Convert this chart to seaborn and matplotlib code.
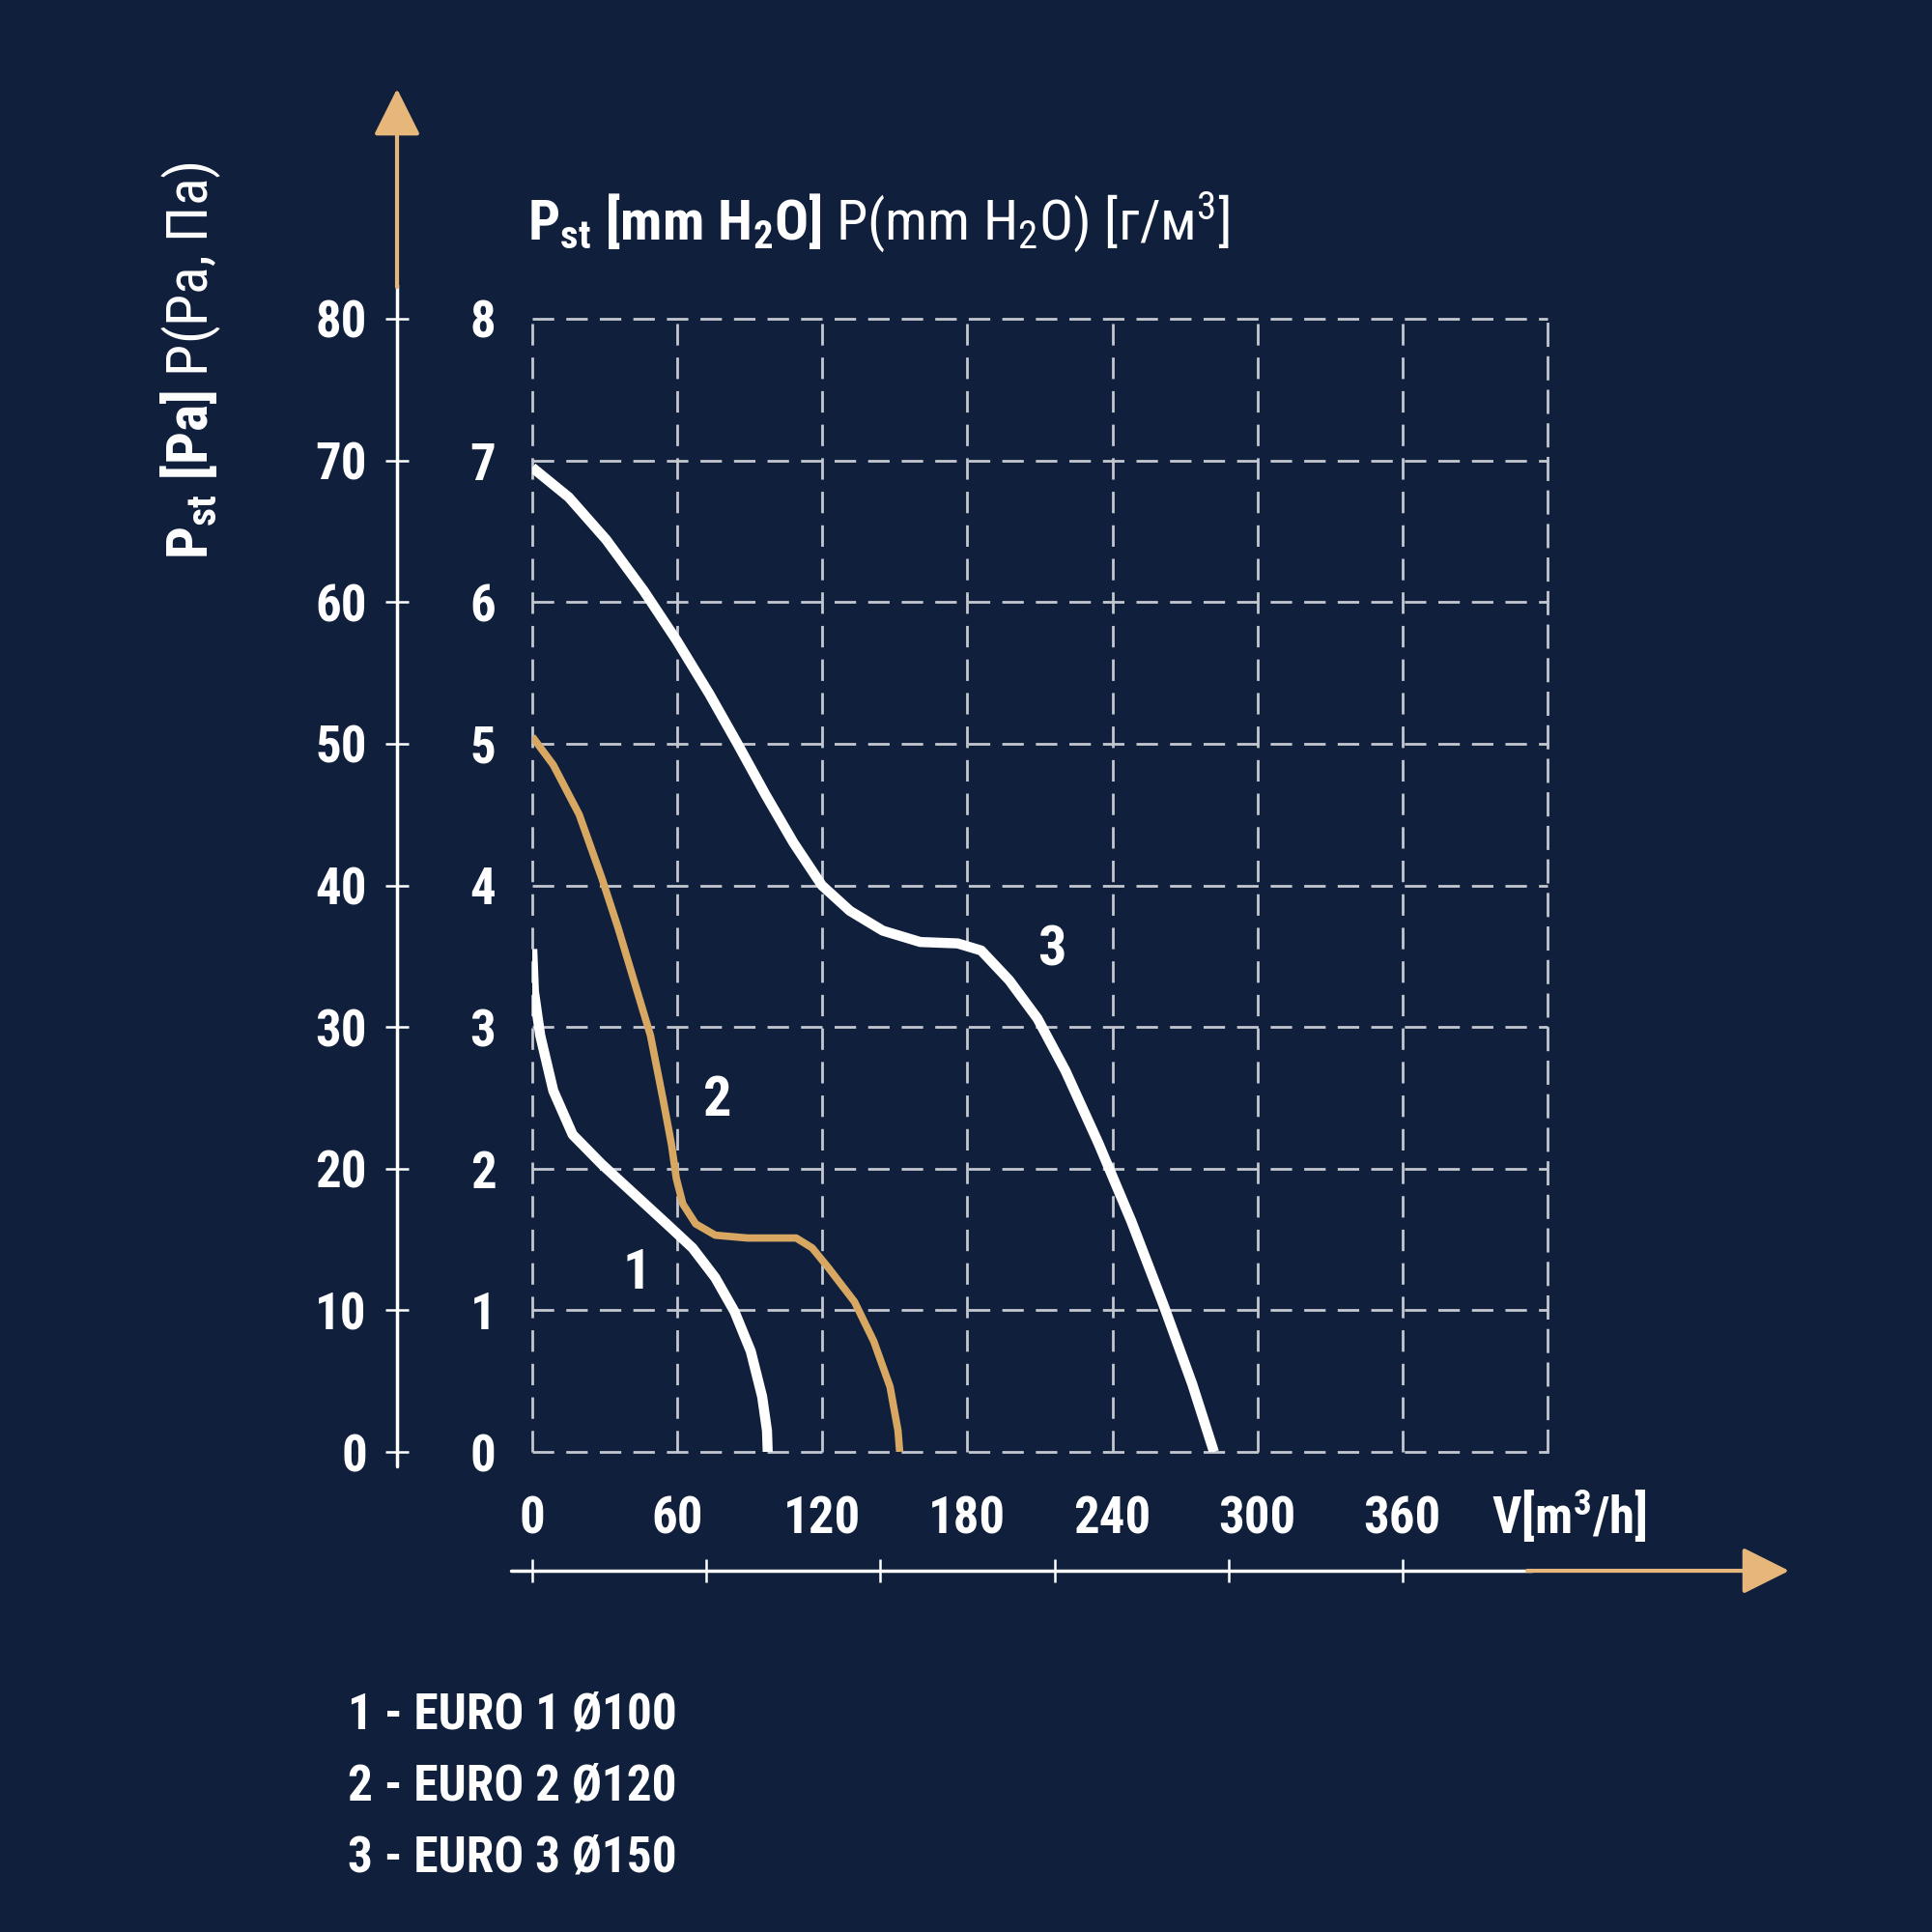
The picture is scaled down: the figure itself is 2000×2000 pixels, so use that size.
import matplotlib
matplotlib.use("Agg")
import matplotlib.pyplot as plt
import seaborn as sns
import pandas as pd
from matplotlib import font_manager

# airflow V [m3/h] vs static pressure P [mm H2O]
euro1_v = [0, 0.7, 3.3, 8.7, 16.7, 28.8, 42.2, 55.6, 66.3, 75.7, 83.7, 90.4, 95.1, 97.1, 97.4]
euro1_p = [3.55, 3.25, 2.94, 2.55, 2.24, 2.03, 1.82, 1.61, 1.44, 1.23, 0.99, 0.71, 0.39, 0.15, 0]

euro2_v = [0, 8.7, 19.4, 28.8, 35.5, 42.2, 48.9, 54.2, 57.6, 59.6, 62.3, 67.6, 75.7, 89.1,
           109.2, 115.8, 122.5, 133.3, 141.3, 148, 151.3, 152]
euro2_p = [5.05, 4.85, 4.5, 4.05, 3.7, 3.32, 2.94, 2.48, 2.17, 1.93, 1.75, 1.61, 1.53, 1.51,
           1.51, 1.44, 1.3, 1.06, 0.78, 0.46, 0.15, 0]

euro3_v = [0, 15.1, 30.6, 46.1, 59.7, 73.3, 84.9, 96.5, 108.1, 119.8, 131.4, 145, 160.5, 176,
           185.7, 197.3, 209, 220.6, 234.2, 247.8, 261.3, 273, 282]
euro3_p = [6.95, 6.74, 6.44, 6.08, 5.73, 5.35, 5.0, 4.64, 4.3, 4.0, 3.82, 3.68, 3.6, 3.59,
           3.54, 3.33, 3.06, 2.69, 2.18, 1.63, 1.03, 0.48, 0]

curve_names = ["1", "2", "3"]
curve_label_v = [43.2, 76.8, 214.8]
curve_label_p = [1.26, 2.48, 3.54]

x_ticks = [0, 60, 120, 180, 240, 300, 360]
x_tick_labels = ["0", "60", "120", "180", "240", "300", "360"]
y_ticks = [0, 1, 2, 3, 4, 5, 6, 7, 8]
y_tick_labels = ["0", "1", "2", "3", "4", "5", "6", "7", "8"]
pa_ticks = [0, 10, 20, 30, 40, 50, 60, 70, 80]
pa_tick_labels = ["0", "10", "20", "30", "40", "50", "60", "70", "80"]
outer_v_ticks = [0, 72, 144, 216, 288, 360]

legend_lines = ["1 - EURO 1 Ø100", "2 - EURO 2 Ø120", "3 - EURO 3 Ø150"]

BG = "#10203c"
GRID = "#c3c7cf"
GOLD = "#d8a862"
ARROW_GOLD = "#e6b67a"

# look for a narrow / condensed bold face, the original uses one
FONT, STRETCH = "Roboto", "normal"
wanted = ["Liberation Sans Narrow", "Roboto Condensed", "Open Sans Condensed",
          "Noto Sans Condensed", "DejaVu Sans Condensed"]
entries = font_manager.fontManager.ttflist
found = False
for w in wanted:
    for f in entries:
        if f.name == w:
            FONT, STRETCH, found = w, f.stretch, True
            break
    if found:
        break
if not found:
    for fam in ["Noto Sans", "Open Sans", "DejaVu Sans", "Roboto"]:
        hits = [f for f in entries if f.name == fam and "condensed" in str(f.stretch)
                and str(f.weight) in ("700", "bold")]
        if hits:
            FONT, STRETCH = fam, hits[0].stretch
            break

sns.set_style("white", rc={"axes.facecolor": BG, "figure.facecolor": BG})
plt.rcParams["font.family"] = [FONT, "DejaVu Sans"]
plt.rcParams["font.stretch"] = STRETCH
plt.rcParams["mathtext.fontset"] = "custom"
plt.rcParams["mathtext.rm"] = f"{FONT}:stretch={STRETCH}"
plt.rcParams["mathtext.bf"] = f"{FONT}:bold:stretch={STRETCH}"
plt.rcParams["mathtext.it"] = f"{FONT}:italic:stretch={STRETCH}"

fig = plt.figure(figsize=(20, 20), dpi=100)
fig.patch.set_facecolor(BG)
ax = fig.add_axes([0.2755, 0.2485, 0.5255, 0.5865])
ax.set_facecolor(BG)

curves = pd.concat([
    pd.DataFrame({"V": euro1_v, "P": euro1_p, "fan": "1"}),
    pd.DataFrame({"V": euro2_v, "P": euro2_p, "fan": "2"}),
    pd.DataFrame({"V": euro3_v, "P": euro3_p, "fan": "3"}),
])
palette = {"1": "white", "2": GOLD, "3": "white"}
for fan, lw in zip(curve_names, [7.5, 5.5, 7.5]):
    sns.lineplot(data=curves[curves["fan"] == fan], x="V", y="P", color=palette[fan],
                 sort=False, estimator=None, lw=lw, ax=ax, legend=False,
                 solid_capstyle="butt", solid_joinstyle="round", zorder=3)

for name, v, p in zip(curve_names, curve_label_v, curve_label_p):
    ax.text(v, p, name, ha="center", va="center", color="white",
            fontsize=42, fontweight="bold", zorder=4)

ax.set_xlabel("")
ax.set_ylabel("")

ax.set_xticks(x_ticks, labels=x_tick_labels, fontsize=38, fontweight="bold", color="white")
ax.set_yticks(y_ticks, labels=y_tick_labels, fontsize=38, fontweight="bold", color="white")
ax.set_xlim(0, 420)
ax.set_ylim(0, 8)
ax.tick_params(axis="both", which="major", direction="inout", length=22, width=1.8, color=GRID)
ax.tick_params(axis="x", which="major", pad=21)
ax.tick_params(axis="y", which="major", pad=16)

# flow unit sits in the tick label row, just past the last column
ax.text(429, -0.0563, r"V[m$^{\mathregular{3}}$/h]", transform=ax.get_xaxis_transform(),
        ha="center", va="center", fontsize=38, fontweight="bold", color="white")

ax.grid(True, which="major", color=GRID, linestyle=(0, (8, 4.5)), linewidth=2.0)
ax.set_axisbelow(True)
for gl in ax.get_xgridlines() + ax.get_ygridlines():
    gl.set_clip_on(False)
for side in ["left", "bottom", "top"]:
    ax.spines[side].set_visible(False)
ax.spines["right"].set_color(GRID)
ax.spines["right"].set_linestyle((0, (8, 4.5)))
ax.spines["right"].set_linewidth(2.0)

# outer Pa axis on the left
sec_y = ax.secondary_yaxis(-0.1332, functions=(lambda p: p * 10, lambda p: p / 10))
sec_y.set_yticks(pa_ticks, labels=pa_tick_labels, fontsize=38, fontweight="bold", color="white")
sec_y.tick_params(direction="inout", length=17, width=1.8, color="white", pad=14)
for s in sec_y.spines.values():
    s.set_visible(False)
ax.plot([-0.1332, -0.1332], [-0.013, 1.03], transform=ax.transAxes, clip_on=False,
        color="white", lw=2.5)
ax.annotate("", xy=(-0.1332, 1.203), xytext=(-0.1332, 1.028), xycoords=ax.transAxes,
            annotation_clip=False,
            arrowprops=dict(arrowstyle="-|>,head_length=30,head_width=15", mutation_scale=1,
                            color=ARROW_GOLD, lw=3, shrinkA=0, shrinkB=0))

# outer flow axis at the bottom
sec_x = ax.secondary_xaxis(-0.1049)
sec_x.set_xticks(outer_v_ticks, labels=[""] * len(outer_v_ticks))
sec_x.tick_params(direction="inout", length=17, width=1.8, color="white")
for s in sec_x.spines.values():
    s.set_visible(False)
ax.plot([-0.021, 0.985], [-0.1049, -0.1049], transform=ax.transAxes, clip_on=False,
        color="white", lw=2.5)
ax.annotate("", xy=(1.238, -0.1049), xytext=(0.98, -0.1049), xycoords=ax.transAxes,
            annotation_clip=False,
            arrowprops=dict(arrowstyle="-|>,head_length=30,head_width=15", mutation_scale=1,
                            color=ARROW_GOLD, lw=3, shrinkA=0, shrinkB=0))

# axis titles
fig.text(546 / 2000, 1 - 230 / 2000,
         r"$\mathbf{P}_{\mathbf{st}}\mathbf{\ [mm\ H}_{\mathbf{2}}\mathbf{O]}$ P(mm H$_{\mathregular{2}}$O) [г/м$^{\mathregular{3}}$]",
         ha="left", va="center", color="white", fontsize=42)
fig.text(198 / 2000, 1 - 373 / 2000,
         r"$\mathbf{P}_{\mathbf{st}}\mathbf{\ [Pa]}$ P(Pa, Па)",
         ha="center", va="center", rotation=90, color="white", fontsize=43)

for i, line in enumerate(legend_lines):
    fig.text(360 / 2000, 1 - (1776 + 74 * i) / 2000, line, ha="left", va="center",
             color="white", fontsize=37, fontweight="bold")

fig.savefig("out.png", dpi=100, facecolor=BG)
